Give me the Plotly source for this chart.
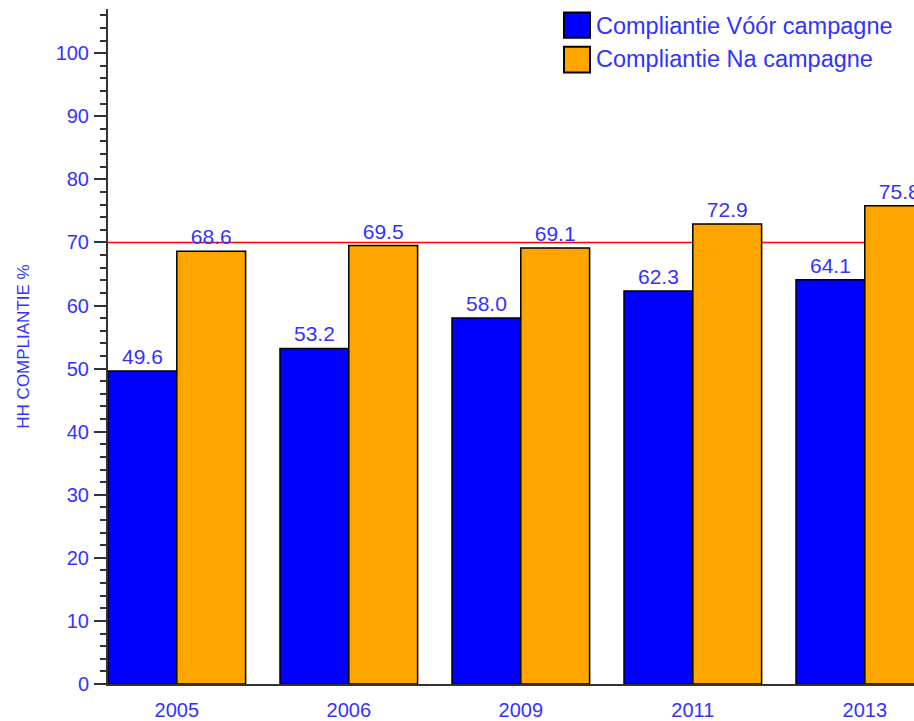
import plotly.graph_objects as go

years = ["2005", "2006", "2009", "2011", "2013"]
voor = [49.6, 53.2, 58.0, 62.3, 64.1]
na = [68.6, 69.5, 69.1, 72.9, 75.8]
series_names = ["Compliantie Vóór campagne", "Compliantie Na campagne"]
threshold = 70
y_title = "HH COMPLIANTIE %"
y_ticks = [0, 10, 20, 30, 40, 50, 60, 70, 80, 90, 100]

BLUE = "#0000ff"
ORANGE = "#ffa500"
TXT = "#3333ff"
FONT = "Liberation Sans, Arial, sans-serif"

W, H = 914, 721
ML, MR, MT, MB = 108, 0, 9, 33
PW, PH = W - ML - MR, H - MT - MB


def px(x):
    return (x - ML) / PW


def py(y):
    return (H - MB - y) / PH


fig = go.Figure()
for name, vals, col in [(series_names[0], voor, BLUE), (series_names[1], na, ORANGE)]:
    fig.add_trace(go.Bar(
        x=years, y=vals, name=name,
        marker=dict(color=col, line=dict(color="black", width=1.5)),
        text=[f"{v:.1f}" for v in vals], textposition="outside",
        textfont=dict(color=TXT, size=21, family=FONT),
        cliponaxis=False, showlegend=False,
    ))

fig.add_shape(type="line", xref="paper", x0=0, x1=1, yref="y", y0=threshold, y1=threshold,
              line=dict(color="red", width=1.5), layer="below")

# custom legend
leg = [(series_names[0], BLUE, 12.5, 38, 26), (series_names[1], ORANGE, 47, 73, 59)]
for name, col, top, bot, mid in leg:
    fig.add_shape(type="rect", xref="paper", yref="paper",
                  x0=px(564), x1=px(590), y0=py(bot), y1=py(top),
                  fillcolor=col, line=dict(color="black", width=2))
    fig.add_annotation(xref="paper", yref="paper", x=px(594), y=py(mid),
                       xanchor="left", yanchor="middle", text=name, showarrow=False,
                       font=dict(color=TXT, size=23.5, family=FONT))

fig.update_layout(
    width=W, height=H,
    margin=dict(l=ML, r=MR, t=MT, b=MB, pad=0),
    paper_bgcolor="white", plot_bgcolor="white",
    barmode="group", bargap=0.2, bargroupgap=0,
    font=dict(family=FONT, color=TXT),
    showlegend=False,
    xaxis=dict(type="category", range=[-0.4, 4.286], showgrid=False,
               showline=True, linecolor="#333", linewidth=2,
               ticks="outside", ticklen=7, tickcolor="rgba(0,0,0,0)",
               tickfont=dict(size=20, color=TXT, family=FONT)),
    yaxis=dict(range=[0, 107], tickvals=y_ticks, showgrid=False, zeroline=False,
               showline=True, linecolor="#333", linewidth=2,
               ticks="outside", ticklen=12, tickwidth=2, tickcolor="#333",
               ticklabelstandoff=1,
               minor=dict(dtick=2, ticks="outside", ticklen=6, tickwidth=2, tickcolor="#333"),
               tickfont=dict(size=20, color=TXT, family=FONT),
               title=dict(text=y_title, font=dict(size=17, color=TXT, family=FONT), standoff=22)),
)

fig.write_html("out.html", config={"displayModeBar": False},
               post_script="document.body.style.margin='0';document.body.style.overflow='hidden';")
